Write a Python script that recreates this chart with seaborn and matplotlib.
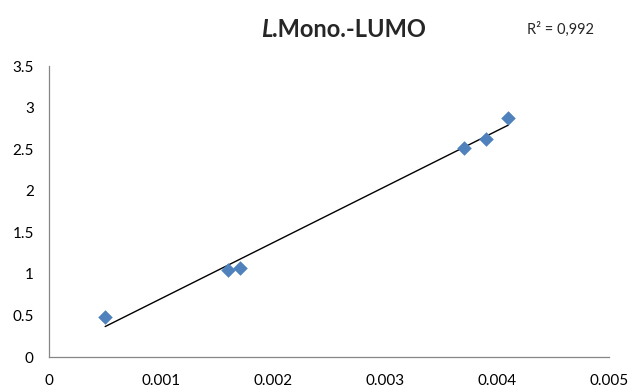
import numpy as np
import pandas as pd
import matplotlib
matplotlib.use("Agg")
import matplotlib.pyplot as plt
import seaborn as sns

# values
x_vals = [0.0005, 0.0016, 0.0017, 0.0037, 0.0039, 0.0041]
y_vals = [0.48, 1.05, 1.07, 2.52, 2.62, 2.88]
x_ticks = [0, 0.001, 0.002, 0.003, 0.004, 0.005]
x_labels = ["0", "0.001", "0.002", "0.003", "0.004", "0.005"]
y_ticks = [0, 0.5, 1, 1.5, 2, 2.5, 3, 3.5]
y_labels = ["0", "0.5", "1", "1.5", "2", "2.5", "3", "3.5"]
r2_text = "R² = 0,992"

df = pd.DataFrame({"x": x_vals, "y": y_vals})

sns.set_style("white")
plt.rcParams["font.family"] = ["Lato", "DejaVu Sans"]

fig = plt.figure(figsize=(6.3, 3.89), dpi=100)
ax = fig.add_axes([0.078, 0.082, 0.889, 0.748])

sns.scatterplot(data=df, x="x", y="y", marker="D", s=55, color="#4F81BD",
                edgecolor="#4F81BD", linewidth=0, ax=ax, zorder=3)

# linear trend line over the data range
slope, intercept = np.polyfit(df["x"], df["y"], 1)
xs = np.array([df["x"].min(), df["x"].max()])
ax.plot(xs, slope * xs + intercept, color="black", linewidth=1, zorder=2)

ax.set_xlim(0, 0.005)
ax.set_ylim(0, 3.5)
ax.set_xticks(x_ticks)
ax.set_xticklabels(x_labels)
ax.set_yticks(y_ticks)
ax.set_yticklabels(y_labels)
ax.set_xlabel("")
ax.set_ylabel("")

for side in ["top", "right"]:
    ax.spines[side].set_visible(False)
for side in ["left", "bottom"]:
    ax.spines[side].set_color("#868686")
    ax.spines[side].set_linewidth(0.9)

ax.tick_params(axis="both", which="both", direction="out", length=4, width=0.9,
               color="#868686", labelsize=11, labelcolor="black", pad=8)
ax.tick_params(axis="y", pad=7)

# title: italic L, then bold rest
t = fig.text(0.414, 0.905, "L", fontsize=17, fontweight="bold", style="italic",
             ha="left", va="baseline")
ax.annotate(".Mono.-LUMO", xy=(1, 0), xycoords=t, fontsize=17, fontweight="bold",
            ha="left", va="bottom")

fig.text(0.837, 0.912, r2_text, fontsize=10.5, ha="left", va="baseline")

fig.savefig("out.png", dpi=100)
